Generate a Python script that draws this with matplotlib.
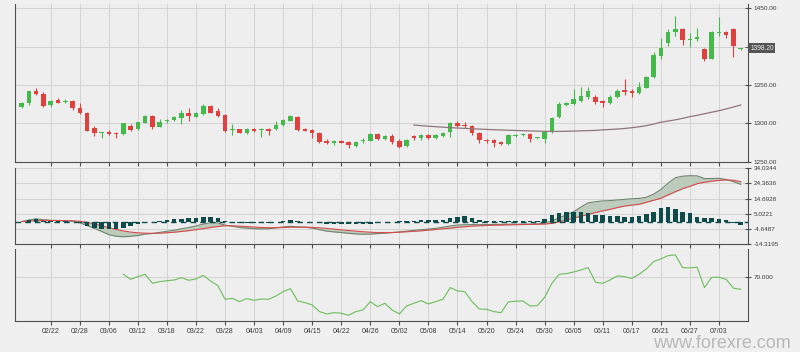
import numpy as np
import matplotlib
matplotlib.use("Agg")
import matplotlib.pyplot as plt
from matplotlib.transforms import blended_transform_factory

plt.rcParams['font.family'] = ['Liberation Sans', 'DejaVu Sans']

# daily candles (trading days, index 0..99)
opens = [1321, 1327, 1341.7, 1338.7, 1323.5, 1330.4, 1328, 1329.6, 1320.4, 1313,
         1293.9, 1287.5, 1288.7, 1287.4, 1286, 1297, 1292.6, 1300.8, 1309.6, 1295.6,
         1302.6, 1304.3, 1306.5, 1313, 1308.7, 1312.2, 1322.6, 1316, 1310.4, 1290.9,
         1292.2, 1287, 1293, 1290.9, 1292, 1292.6, 1297.8, 1303.5, 1308.7, 1293,
         1291.3, 1287.8, 1277.4, 1274.8, 1277.4, 1275.2, 1270.9, 1276.5, 1277.4, 1286.1,
         1279.6, 1283.1, 1277.4, 1270.4, 1283.9, 1280.4, 1285.2, 1281.3, 1283.5, 1288.3,
         1300.8, 1298.3, 1297, 1287.8, 1278.7, 1278.3, 1276.1, 1273, 1283.1, 1285.2,
         1285.7, 1280.4, 1280, 1288.3, 1307.8, 1323.9, 1324.8, 1329.6, 1334.8, 1334.8,
         1328.7, 1326.1, 1334, 1343.5, 1342.6, 1339.1, 1346.5, 1360, 1388.3, 1405.2,
         1419.1, 1423.5, 1408.7, 1409.6, 1396.5, 1384.3, 1418.3, 1419.6, 1423.5, 1396.5]
highs = [1328, 1342.5, 1345.6, 1340.9, 1330, 1332.5, 1331.5, 1330.9, 1327, 1314.3,
         1296.5, 1289.2, 1290.8, 1289, 1300.8, 1299, 1302, 1311.3, 1310.4, 1305.7,
         1306, 1309.6, 1317.4, 1320.4, 1314.8, 1324.8, 1323.5, 1319.6, 1311.7, 1298.7,
         1293, 1294, 1294, 1293.5, 1294, 1303.5, 1305.7, 1310.4, 1309.6, 1294.3,
         1292.2, 1288.7, 1279.1, 1278.3, 1278.7, 1277.4, 1277.4, 1280.4, 1287, 1287,
         1285.2, 1286.5, 1279.1, 1280, 1285.2, 1286.5, 1286.5, 1286.5, 1289.1, 1301.7,
         1302.6, 1301.7, 1298.3, 1289.1, 1279.6, 1279.1, 1277, 1285.7, 1286, 1287.5,
         1287, 1282.6, 1290.4, 1307.8, 1327.8, 1328.3, 1344.3, 1347.8, 1347, 1336.5,
         1330.4, 1337.4, 1344.3, 1358.3, 1344.3, 1354.3, 1361.7, 1393, 1411, 1422.6,
         1440, 1424.3, 1417.4, 1424.3, 1397.8, 1420.4, 1438.3, 1420.4, 1424.3, 1398.6]
lows = [1320, 1323.5, 1337, 1320.9, 1321, 1326, 1326, 1317.4, 1312, 1290,
        1283.5, 1281, 1285, 1281.5, 1285, 1290.4, 1291.7, 1300, 1292.6, 1294.7,
        1300, 1303.5, 1299, 1303.5, 1307.8, 1311.3, 1313, 1308.7, 1288.7, 1285.3,
        1287, 1286, 1288.7, 1282.6, 1285, 1291.3, 1297, 1302.6, 1290.4, 1289.6,
        1281.3, 1274.8, 1273, 1271.3, 1273.9, 1267.4, 1268.7, 1274.8, 1276.5, 1278.3,
        1278.7, 1273.5, 1268.3, 1269.6, 1278.7, 1278.7, 1279.1, 1279.6, 1281.7, 1282.6,
        1295.7, 1293.5, 1285.2, 1274.8, 1273.9, 1269.6, 1272.2, 1272.2, 1282, 1283.5,
        1276.1, 1279.1, 1274.8, 1287.4, 1306.5, 1322.6, 1323.5, 1328.3, 1332.2, 1325.2,
        1321.3, 1325.2, 1333, 1337, 1334, 1338.3, 1345.7, 1358.7, 1383.5, 1400.9,
        1414.3, 1401.7, 1399, 1407.8, 1381.7, 1383.5, 1413.9, 1410.9, 1386, 1395.5]
closes = [1327, 1341.7, 1337.8, 1323, 1328.7, 1327, 1329.6, 1320, 1313, 1290.4,
          1287, 1288.5, 1286, 1286.1, 1300, 1291.7, 1301.3, 1309.6, 1295.6, 1302.2,
          1304.3, 1307.8, 1313, 1309.6, 1313, 1322.6, 1313.9, 1309.6, 1289.6, 1292.2,
          1287.8, 1293, 1289.6, 1292.2, 1290, 1298.3, 1304.3, 1309.6, 1291.3, 1290.4,
          1287.8, 1276.1, 1273.9, 1277, 1274.8, 1271.7, 1276.1, 1278.7, 1286.1, 1279.1,
          1284, 1275.7, 1269.6, 1278.7, 1280.4, 1284.8, 1280.4, 1284.3, 1287.8, 1300,
          1297, 1297, 1287, 1278.3, 1277.4, 1274.8, 1273, 1284.8, 1285.2, 1286.1,
          1280, 1281.7, 1288.3, 1306.5, 1324.8, 1327, 1331.3, 1335.7, 1342.6, 1327.4,
          1326.5, 1334, 1342.6, 1341.3, 1340, 1347, 1360, 1389.1, 1398.7, 1419.1,
          1423.5, 1408.7, 1410.4, 1412.2, 1383.5, 1418.7, 1419.1, 1414.8, 1400.9, 1398.2]

# moving average, starts at candle 54
ma_start = 54
ma_vals = [1297.8, 1297.0, 1296.3, 1295.6, 1295.0, 1294.4, 1293.9, 1293.4, 1292.9, 1292.5,
           1292.1, 1291.7, 1291.3, 1291.0, 1290.7, 1290.4, 1290.1, 1289.8, 1289.6, 1289.4,
           1289.5, 1289.7, 1289.9, 1290.2, 1290.5, 1290.8, 1291.5, 1292.0, 1292.6, 1293.3,
           1294.3, 1295.5, 1297.0, 1299.0, 1301.5, 1303.0, 1304.6, 1306.5, 1308.7, 1310.5,
           1312.5, 1314.5, 1316.5, 1318.8, 1321.3, 1323.9]

macd = [0.0, 1.0, 1.8, 1.2, 0.8, 0.6, 0.5, 0.2, -0.8, -2.5,
        -4.3, -6.3, -8.3, -9.4, -9.7, -9.4, -8.9, -8.0, -7.6, -6.9,
        -6.2, -5.5, -4.6, -3.8, -2.8, -1.6, -0.7, -0.9, -2.3, -3.0,
        -3.8, -4.2, -4.5, -4.7, -4.6, -4.0, -3.4, -3.0, -3.4, -3.6,
        -4.2, -5.2, -6.1, -6.6, -7.0, -7.5, -7.9, -8.1, -8.0, -7.7,
        -7.4, -7.0, -6.6, -6.1, -5.6, -5.2, -4.8, -4.3, -3.6, -2.8,
        -2.2, -2.0, -1.9, -2.0, -1.9, -1.9, -1.8, -1.7, -1.7, -1.6,
        -1.6, -1.5, -1.0, 0.4, 2.4, 4.3, 6.3, 9.3, 12.0, 12.7,
        13.2, 13.4, 13.8, 14.2, 14.6, 14.8, 15.5, 17.5, 20.5, 24.5,
        28.0, 29.0, 29.3, 29.2, 27.5, 27.5, 27.6, 26.9, 25.5, 23.8]
signal = [0.0, 0.3, 0.6, 0.7, 0.7, 0.7, 0.6, 0.5, 0.2, -0.5,
          -1.5, -2.6, -3.9, -5.0, -6.0, -6.7, -7.2, -7.4, -7.5, -7.4,
          -7.1, -6.8, -6.3, -5.8, -5.2, -4.5, -3.8, -3.2, -2.6, -2.7,
          -2.9, -3.2, -3.5, -3.8, -3.9, -3.9, -3.8, -3.6, -3.6, -3.6,
          -3.7, -4.0, -4.4, -4.8, -5.3, -5.7, -6.1, -6.5, -6.8, -7.0,
          -7.0, -7.0, -6.8, -6.5, -6.2, -5.9, -5.5, -5.1, -4.6, -4.2,
          -3.7, -3.3, -2.9, -2.7, -2.5, -2.3, -2.2, -2.1, -2.0, -1.9,
          -1.8, -1.7, -1.6, -1.1, -0.2, 1.0, 2.1, 3.4, 4.6, 5.8,
          6.8, 7.8, 8.9, 9.9, 10.5, 11.0, 12.3, 13.6, 14.9, 17.0,
          19.1, 21.0, 22.5, 24.2, 25.1, 25.8, 26.3, 26.6, 26.4, 25.5]
hist = [0.0, 0.7, 1.5, 0.6, 0.3, 0.2, 0.1, -0.2, -1.0, -3.0,
        -4.0, -4.6, -4.7, -4.8, -3.8, -2.8, -1.8, -0.6, -0.2, 0.4,
        0.8, 1.4, 1.7, 2.0, 2.5, 3.0, 3.2, 2.6, 0.4, -0.4,
        -0.8, -1.0, -1.0, -0.9, -0.7, -0.2, 0.4, 0.8, 0.2, -0.1,
        -0.5, -1.2, -1.6, -1.7, -1.8, -1.8, -1.8, -1.6, -1.3, -0.8,
        -0.5, -0.1, 0.2, 0.4, 0.6, 0.7, 0.7, 0.8, 1.0, 2.0,
        3.0, 3.4, 2.6, 0.8, 0.5, 0.4, 0.4, 0.4, 0.3, 0.3,
        0.2, 0.2, 1.8, 4.5, 5.6, 6.0, 6.3, 6.4, 5.4, 4.4,
        4.2, 3.8, 3.6, 3.2, 3.2, 3.6, 4.8, 6.3, 8.4, 9.0,
        8.1, 6.4, 5.3, 2.9, 2.6, 2.3, 1.6, 0.8, -0.6, -2.2]

# RSI, starts at candle 14
rsi_start = 14
rsi = [73.2, 68.0, 70.8, 73.2, 63.9, 65.6, 66.6, 67.3, 69.7, 67.0,
       68.4, 72.2, 66.3, 61.5, 47.4, 48.4, 45.0, 48.1, 46.4, 47.7,
       47.4, 50.8, 55.3, 58.4, 45.7, 44.0, 41.6, 34.7, 32.3, 33.6,
       33.0, 30.9, 34.7, 36.4, 45.0, 39.8, 43.3, 36.4, 32.3, 40.5,
       43.3, 46.0, 42.6, 45.0, 47.4, 59.5, 56.0, 55.3, 45.0, 37.4,
       37.1, 34.7, 33.6, 44.7, 45.4, 45.7, 40.5, 40.9, 49.5, 63.9,
       73.2, 73.9, 75.6, 77.7, 80.1, 65.0, 63.9, 67.3, 71.5, 70.8,
       69.0, 73.2, 78.7, 86.3, 89.1, 92.5, 93.2, 80.1, 79.8, 80.5,
       59.5, 70.1, 70.1, 68.0, 58.8, 57.8]

date_ticks = list(range(4, 100, 4))
date_labels = ['02/22', '02/28', '03/06', '03/12', '03/18', '03/22', '03/28', '04/03',
               '04/09', '04/15', '04/22', '04/26', '05/02', '05/08', '05/14', '05/20',
               '05/24', '05/30', '06/05', '06/11', '06/17', '06/21', '06/27', '07/03']

price_ticks = [1250, 1300, 1350, 1400, 1450]
price_labels = ['1250.00', '1300.00', '1350.00', '', '1450.00']
macd_ticks = [-14.3195, -4.6487, 5.0221, 14.6928, 24.3636, 34.0344]
rsi_ticks = [70]
rsi_labels = ['70.000']

bg = '#eeeeee'
grid_c = '#d4d4d4'
spine_c = '#505050'
text_c = '#3a3a3a'
up_c = '#45b94b'
down_c = '#e0413f'

fig = plt.figure(figsize=(8, 3.52), dpi=100)
fig.patch.set_facecolor('#f0f0f0')


def panel(top, bottom, left=15, right=748):
    ax = fig.add_axes([left / 800, 1 - bottom / 352, (right - left) / 800, (bottom - top) / 352])
    ax.set_facecolor(bg)
    ax.spines['top'].set_visible(False)
    for s in ['left', 'right', 'bottom']:
        ax.spines[s].set_color(spine_c)
        ax.spines[s].set_linewidth(0.8)
    ax.set_xlim(-0.92, 100)
    ax.set_xticks(date_ticks)
    ax.yaxis.tick_right()
    ax.tick_params(axis='x', direction='out', length=3, color=spine_c, labelsize=5,
                   labelcolor=text_c, pad=2)
    ax.tick_params(axis='y', direction='inout', length=4, color=spine_c, labelsize=4.6,
                   labelcolor=text_c, pad=2)
    ax.grid(True, color=grid_c, lw=0.7)
    ax.set_axisbelow(True)
    return ax


ax1 = panel(4, 162)
ax2 = panel(168.3, 244)
ax3 = panel(249.3, 321)

# --- price panel ---
x = np.arange(len(closes))
o = np.array(opens)
c = np.array(closes)
up = c >= o
cols = [up_c if u else down_c for u in up]
ax1.vlines(x, lows, highs, colors=cols, lw=0.8, zorder=2)
ax1.bar(x, np.maximum(np.abs(c - o), 0.7), bottom=np.minimum(o, c), width=0.62,
        color=cols, lw=0, zorder=3)
x_ma = np.arange(ma_start, ma_start + len(ma_vals))
ax1.plot(x_ma, ma_vals, color='#8e767b', lw=0.9, zorder=4)
ax1.set_ylim(1249.6, 1455.6)
ax1.set_yticks(price_ticks)
ax1.set_yticklabels(price_labels)
ax1.set_xticklabels([])
trans = blended_transform_factory(ax1.transAxes, ax1.transData)
ax1.text(1.003, closes[-1], '%.2f' % closes[-1], transform=trans, ha='left', va='center',
         fontsize=4.8, color='#f2f2f2', zorder=10,
         bbox=dict(boxstyle='square,pad=0.25', fc='#555555', ec='none'))

# --- MACD panel ---
ax2.fill_between(x, macd, signal, color='#bccbbc', lw=0, zorder=2)
ax2.plot(x, macd, color='#6f846f', lw=0.8, zorder=3)
ax2.plot(x, signal, color='#d64a4a', lw=0.8, zorder=3)
ax2.bar(x, hist, width=0.62, color='#0f4b4b', lw=0, zorder=4)
ax2.axhline(0, color='#0f4b4b', lw=1.0, ls=(0, (4, 3)), zorder=4)
ax2.set_ylim(macd_ticks[0], macd_ticks[-1])
ax2.set_yticks(macd_ticks)
ax2.set_yticklabels(['%.4f' % t for t in macd_ticks])
ax2.set_xticklabels([])

# --- RSI panel ---
x_rsi = np.arange(rsi_start, rsi_start + len(rsi))
ax3.plot(x_rsi, rsi, color='#6dbd5c', lw=0.8, zorder=3)
ax3.set_ylim(25, 99)
ax3.set_yticks(rsi_ticks)
ax3.set_yticklabels(rsi_labels)
ax3.set_xticklabels(date_labels)

fig.text(0.988, 0.0, 'www.forexre.com', ha='right', va='bottom', fontsize=13,
         color='#b8b8b8')

fig.savefig('out.png', dpi=100, facecolor=fig.get_facecolor())
